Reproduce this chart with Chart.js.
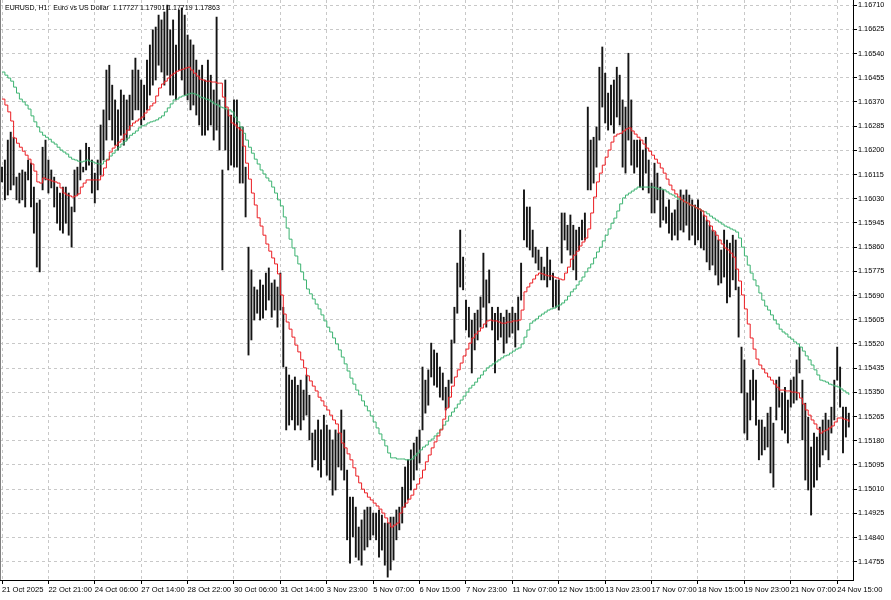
<!DOCTYPE html>
<html>
<head>
<meta charset="utf-8">
<script src="https://cdn.jsdelivr.net/npm/chart.js@4.4.1/dist/chart.umd.min.js"></script>
<style>
  html, body { margin: 0; padding: 0; background: #fff; }
</style>
</head>
<body>
<canvas id="myChart" width="891" height="600"></canvas>
<script>
// EURUSD H1 bars (one high / low per bar)
var highs = [
  1.16141,1.16166,1.16236,1.16264,1.16246,1.16106,1.16120,1.16131,1.16124,1.16166,
  1.16155,1.16071,1.16015,1.16026,1.16211,1.16236,1.16166,1.16131,1.16106,1.16071,
  1.16050,1.16071,1.16071,1.16050,1.16001,1.16131,1.16141,1.16201,1.16141,1.16225,
  1.16211,1.16166,1.16120,1.16166,1.16289,1.16342,1.16482,1.16499,1.16429,1.16377,
  1.16342,1.16412,1.16394,1.16377,1.16394,1.16482,1.16524,1.16482,1.16447,1.16429,
  1.16517,1.16570,1.16623,1.16633,1.16675,1.16658,1.16686,1.16710,1.16623,1.16658,
  1.16570,1.16693,1.16700,1.16675,1.16605,1.16588,1.16570,1.16517,1.16482,1.16499,
  1.16447,1.16517,1.16464,1.16412,1.16668,1.16377,1.16131,1.16447,1.16342,1.16324,
  1.16377,1.16377,1.16282,1.16282,1.16141,1.15860,1.15780,1.15720,1.15710,1.15745,
  1.15727,1.15769,1.15787,1.15734,1.15745,1.15720,1.15769,1.15649,1.15439,1.15411,
  1.15393,1.15404,1.15375,1.15393,1.15358,1.15411,1.15340,1.15207,1.15218,1.15253,
  1.15218,1.15270,1.15235,1.15218,1.15183,1.15218,1.15207,1.15288,1.15218,1.15077,
  1.14982,1.14982,1.14947,1.14877,1.14902,1.14937,1.14947,1.14947,1.14926,1.14926,
  1.14937,1.14919,1.14891,1.14891,1.14912,1.14912,1.14937,1.14947,1.15017,1.15088,
  1.15113,1.15148,1.15172,1.15193,1.15218,1.15439,1.15393,1.15429,1.15523,1.15499,
  1.15488,1.15439,1.15418,1.15368,1.15393,1.15534,1.15649,1.15804,1.15920,1.15825,
  1.15674,1.15649,1.15604,1.15628,1.15639,1.15685,1.15839,1.15745,1.15780,1.15649,
  1.15628,1.15649,1.15628,1.15614,1.15639,1.15628,1.15649,1.15628,1.15685,1.15804,
  1.16061,1.16001,1.16001,1.15920,1.15860,1.15850,1.15825,1.15790,1.15860,1.15815,
  1.15769,1.15745,1.15745,1.15980,1.15980,1.15937,1.15973,1.15937,1.15920,1.15930,
  1.15955,1.15980,1.16352,1.16236,1.16246,1.16282,1.16492,1.16563,1.16471,1.16401,
  1.16429,1.16447,1.16492,1.16464,1.16377,1.16352,1.16541,1.16377,1.16236,1.16236,
  1.16236,1.16201,1.16246,1.16166,1.16085,1.16155,1.16120,1.16071,1.16061,1.16001,
  1.16026,1.15980,1.15991,1.16026,1.16061,1.16043,1.16061,1.16043,1.16026,1.16008,
  1.16026,1.15991,1.15973,1.15955,1.15937,1.15920,1.15913,1.15885,1.15850,1.15920,
  1.15885,1.15874,1.15902,1.15885,1.15720,1.15509,1.15464,1.15348,1.15393,1.15429,
  1.15393,1.15253,1.15253,1.15228,1.15277,1.15298,1.15242,1.15393,1.15404,1.15348,
  1.15368,1.15323,1.15393,1.15404,1.15464,1.15509,1.15393,1.15312,1.15263,1.15158,
  1.15207,1.15193,1.15228,1.15253,1.15277,1.15253,1.15298,1.15393,1.15509,1.15439,
  1.15298,1.15298,1.15277
];
var lows = [
  1.16089,1.16026,1.16043,1.16061,1.16078,1.16026,1.16015,1.16026,1.16001,1.16096,
  1.16001,1.15909,1.15790,1.15773,1.16061,1.16096,1.16050,1.16068,1.16001,1.15944,
  1.15920,1.15909,1.15944,1.15902,1.15860,1.15984,1.16043,1.16096,1.16124,1.16131,
  1.16148,1.16050,1.16015,1.16061,1.16113,1.16166,1.16236,1.16307,1.16236,1.16218,
  1.16201,1.16253,1.16218,1.16236,1.16271,1.16307,1.16342,1.16342,1.16289,1.16307,
  1.16342,1.16394,1.16429,1.16447,1.16499,1.16475,1.16429,1.16464,1.16394,1.16394,
  1.16377,1.16482,1.16447,1.16394,1.16377,1.16342,1.16359,1.16324,1.16289,1.16253,
  1.16253,1.16271,1.16289,1.16236,1.16271,1.16201,1.15780,1.16201,1.16131,1.16148,
  1.16141,1.16141,1.16085,1.16085,1.15966,1.15481,1.15534,1.15604,1.15628,1.15604,
  1.15611,1.15639,1.15674,1.15614,1.15639,1.15579,1.15639,1.15439,1.15218,1.15235,
  1.15253,1.15218,1.15235,1.15218,1.15253,1.15270,1.15183,1.15088,1.15113,1.15077,
  1.15052,1.15113,1.15059,1.15042,1.14989,1.15007,1.15088,1.15077,1.15042,1.14832,
  1.14750,1.14842,1.14771,1.14761,1.14743,1.14796,1.14807,1.14832,1.14849,1.14832,
  1.14771,1.14796,1.14743,1.14701,1.14726,1.14761,1.14832,1.14867,1.14891,1.14947,
  1.14972,1.15007,1.15042,1.15077,1.15102,1.15218,1.15277,1.15305,1.15404,1.15375,
  1.15368,1.15333,1.15323,1.15288,1.15298,1.15382,1.15523,1.15628,1.15720,1.15710,
  1.15569,1.15544,1.15418,1.15499,1.15534,1.15579,1.15649,1.15579,1.15664,1.15569,
  1.15418,1.15534,1.15544,1.15488,1.15523,1.15544,1.15558,1.15509,1.15569,1.15674,
  1.15885,1.15860,1.15850,1.15825,1.15804,1.15780,1.15745,1.15745,1.15720,1.15745,
  1.15649,1.15649,1.15639,1.15804,1.15885,1.15850,1.15832,1.15780,1.15745,1.15850,
  1.15885,1.15885,1.16061,1.16061,1.16085,1.16141,1.16236,1.16352,1.16296,1.16271,
  1.16289,1.16260,1.16317,1.16289,1.16141,1.16120,1.16236,1.16148,1.16120,1.16141,
  1.16071,1.16061,1.16120,1.16050,1.15980,1.15980,1.16026,1.15930,1.15955,1.15944,
  1.15909,1.15885,1.15902,1.15885,1.15920,1.15913,1.15937,1.15885,1.15902,1.15868,
  1.15885,1.15857,1.15850,1.15808,1.15780,1.15797,1.15762,1.15727,1.15734,1.15755,
  1.15664,1.15685,1.15745,1.15710,1.15544,1.15348,1.15207,1.15183,1.15253,1.15323,
  1.15235,1.15113,1.15130,1.15148,1.15158,1.15067,1.15017,1.15253,1.15298,1.15218,
  1.15207,1.15172,1.15298,1.15312,1.15323,1.15418,1.15183,1.15042,1.15007,1.14919,
  1.15017,1.15042,1.15088,1.15130,1.15148,1.15113,1.15207,1.15253,1.15393,1.15298,
  1.15137,1.15193,1.15228
];
// moving averages (red = fast, green = slow)
var fastMA = [
  1.16380,1.16359,1.16335,1.16303,1.16243,1.16225,1.16211,1.16197,1.16183,1.16169,
  1.16152,1.16127,1.16089,1.16085,1.16103,1.16099,1.16096,1.16092,1.16089,1.16085,
  1.16068,1.16050,1.16043,1.16040,1.16036,1.16040,1.16047,1.16071,1.16085,1.16096,
  1.16096,1.16096,1.16096,1.16096,1.16110,1.16138,1.16166,1.16194,1.16208,1.16218,
  1.16229,1.16239,1.16257,1.16271,1.16286,1.16296,1.16303,1.16310,1.16317,1.16331,
  1.16342,1.16356,1.16366,1.16391,1.16419,1.16433,1.16443,1.16454,1.16464,1.16471,
  1.16478,1.16482,1.16485,1.16489,1.16492,1.16482,1.16471,1.16461,1.16450,1.16447,
  1.16443,1.16443,1.16440,1.16440,1.16436,1.16436,1.16387,1.16352,1.16321,1.16296,
  1.16289,1.16279,1.16271,1.16215,1.16155,1.16099,1.16050,1.16008,1.15963,1.15934,
  1.15902,1.15871,1.15846,1.15822,1.15801,1.15766,1.15692,1.15625,1.15597,1.15572,
  1.15544,1.15516,1.15492,1.15464,1.15436,1.15408,1.15390,1.15372,1.15355,1.15333,
  1.15320,1.15302,1.15288,1.15270,1.15253,1.15239,1.15207,1.15172,1.15155,1.15134,
  1.15113,1.15085,1.15056,1.15032,1.15010,1.14997,1.14982,1.14972,1.14961,1.14951,
  1.14940,1.14926,1.14909,1.14891,1.14877,1.14884,1.14891,1.14926,1.14947,1.14961,
  1.14975,1.14989,1.15010,1.15028,1.15049,1.15077,1.15106,1.15130,1.15155,1.15176,
  1.15197,1.15218,1.15256,1.15295,1.15333,1.15372,1.15404,1.15429,1.15453,1.15478,
  1.15502,1.15523,1.15541,1.15555,1.15565,1.15576,1.15590,1.15601,1.15604,1.15601,
  1.15601,1.15597,1.15593,1.15593,1.15597,1.15597,1.15601,1.15601,1.15604,1.15639,
  1.15703,1.15720,1.15734,1.15748,1.15762,1.15769,1.15766,1.15762,1.15759,1.15759,
  1.15755,1.15752,1.15748,1.15745,1.15769,1.15790,1.15818,1.15832,1.15846,1.15864,
  1.15878,1.15892,1.15924,1.15980,1.16036,1.16089,1.16120,1.16148,1.16176,1.16201,
  1.16229,1.16250,1.16257,1.16260,1.16268,1.16275,1.16279,1.16268,1.16257,1.16246,
  1.16236,1.16222,1.16208,1.16197,1.16183,1.16169,1.16155,1.16138,1.16120,1.16099,
  1.16078,1.16061,1.16047,1.16036,1.16026,1.16019,1.16015,1.16008,1.16005,1.15998,
  1.15994,1.15987,1.15969,1.15952,1.15934,1.15917,1.15902,1.15885,1.15871,1.15857,
  1.15850,1.15839,1.15825,1.15783,1.15741,1.15692,1.15643,1.15590,1.15541,1.15502,
  1.15467,1.15446,1.15432,1.15418,1.15404,1.15393,1.15379,1.15368,1.15358,1.15358,
  1.15355,1.15355,1.15351,1.15351,1.15348,1.15330,1.15309,1.15288,1.15270,1.15253,
  1.15239,1.15221,1.15207,1.15214,1.15218,1.15225,1.15232,1.15246,1.15260,1.15260,
  1.15256,1.15253,1.15246
];
var slowMA = [
  1.16475,1.16464,1.16454,1.16443,1.16422,1.16401,1.16380,1.16370,1.16359,1.16345,
  1.16321,1.16300,1.16282,1.16264,1.16253,1.16246,1.16239,1.16229,1.16222,1.16211,
  1.16201,1.16194,1.16187,1.16176,1.16169,1.16166,1.16162,1.16159,1.16162,1.16166,
  1.16162,1.16159,1.16155,1.16152,1.16152,1.16162,1.16169,1.16180,1.16190,1.16201,
  1.16211,1.16222,1.16232,1.16243,1.16253,1.16260,1.16268,1.16279,1.16286,1.16289,
  1.16296,1.16300,1.16303,1.16307,1.16314,1.16321,1.16335,1.16349,1.16363,1.16377,
  1.16380,1.16387,1.16391,1.16394,1.16398,1.16401,1.16398,1.16394,1.16387,1.16384,
  1.16380,1.16377,1.16370,1.16363,1.16359,1.16352,1.16349,1.16345,1.16342,1.16335,
  1.16317,1.16300,1.16282,1.16260,1.16236,1.16211,1.16190,1.16169,1.16152,1.16131,
  1.16117,1.16103,1.16092,1.16071,1.16050,1.16026,1.16005,1.15966,1.15927,1.15888,
  1.15857,1.15829,1.15801,1.15773,1.15745,1.15713,1.15696,1.15678,1.15660,1.15643,
  1.15622,1.15601,1.15579,1.15562,1.15541,1.15520,1.15499,1.15474,1.15450,1.15425,
  1.15400,1.15379,1.15358,1.15341,1.15320,1.15302,1.15285,1.15267,1.15246,1.15225,
  1.15204,1.15183,1.15162,1.15137,1.15120,1.15120,1.15116,1.15116,1.15116,1.15113,
  1.15113,1.15116,1.15127,1.15137,1.15148,1.15158,1.15165,1.15179,1.15186,1.15197,
  1.15207,1.15221,1.15235,1.15249,1.15267,1.15281,1.15295,1.15309,1.15323,1.15337,
  1.15351,1.15365,1.15375,1.15386,1.15400,1.15411,1.15425,1.15436,1.15443,1.15450,
  1.15457,1.15464,1.15471,1.15478,1.15481,1.15488,1.15495,1.15502,1.15506,1.15520,
  1.15544,1.15569,1.15593,1.15601,1.15608,1.15618,1.15625,1.15632,1.15639,1.15643,
  1.15646,1.15653,1.15657,1.15664,1.15674,1.15688,1.15703,1.15713,1.15727,1.15741,
  1.15755,1.15773,1.15787,1.15801,1.15822,1.15843,1.15860,1.15882,1.15902,1.15924,
  1.15944,1.15962,1.15987,1.16012,1.16033,1.16043,1.16050,1.16057,1.16064,1.16071,
  1.16071,1.16071,1.16071,1.16071,1.16071,1.16068,1.16064,1.16064,1.16061,1.16054,
  1.16047,1.16043,1.16036,1.16029,1.16026,1.16019,1.16015,1.16008,1.16005,1.15998,
  1.15994,1.15987,1.15984,1.15977,1.15969,1.15962,1.15955,1.15948,1.15941,1.15934,
  1.15930,1.15924,1.15920,1.15913,1.15892,1.15860,1.15829,1.15797,1.15769,1.15745,
  1.15724,1.15699,1.15674,1.15653,1.15639,1.15622,1.15604,1.15590,1.15572,1.15562,
  1.15555,1.15544,1.15537,1.15527,1.15520,1.15509,1.15495,1.15478,1.15464,1.15446,
  1.15429,1.15411,1.15393,1.15390,1.15386,1.15379,1.15376,1.15372,1.15369,1.15362,
  1.15355,1.15348,1.15341
];

// axis labels
var priceTicks = [
  1.16710, 1.16625, 1.16540, 1.16455, 1.16370, 1.16285, 1.16200, 1.16115,
  1.16030, 1.15945, 1.15860, 1.15775, 1.15690, 1.15605, 1.15520, 1.15435,
  1.15350, 1.15265, 1.15180, 1.15095, 1.15010, 1.14925, 1.14840, 1.14755
];
var timeLabels = [
  "21 Oct 2025", "22 Oct 21:00", "24 Oct 06:00", "27 Oct 14:00", "28 Oct 22:00",
  "30 Oct 06:00", "31 Oct 14:00", "3 Nov 23:00", "5 Nov 07:00", "6 Nov 15:00",
  "7 Nov 23:00", "11 Nov 07:00", "12 Nov 15:00", "13 Nov 23:00", "17 Nov 07:00",
  "18 Nov 15:00", "19 Nov 23:00", "21 Nov 07:00", "24 Nov 15:00"
];
var barsPerLabel = 16;
var header = "EURUSD, H1:  Euro vs US Dollar  1.17727 1.17901 1.17719 1.17863";

var FAMILY = "Liberation Sans";
var GRID = '#c8c8c8';

var barIndex = highs.map(function (_, i) { return i; });
var ranges = highs.map(function (h, i) { return [lows[i], h]; });

// white background, left frame line and the symbol header
var chartFrame = {
  id: 'chartFrame',
  beforeDraw: function (chart) {
    var c = chart.ctx;
    c.save();
    c.fillStyle = '#fff';
    c.fillRect(0, 0, chart.width, chart.height);
    c.restore();
  },
  afterDraw: function (chart) {
    var c = chart.ctx, a = chart.chartArea;
    c.save();
    c.strokeStyle = '#808080';
    c.lineWidth = 1;
    c.beginPath();
    c.moveTo(a.left + 0.5, a.top);
    c.lineTo(a.left + 0.5, a.bottom);
    c.stroke();
    c.fillStyle = '#000';
    c.font = '7px "' + FAMILY + '"';
    c.textBaseline = 'middle';
    c.fillText(header, 5, 8);
    c.restore();
  }
};

var ctx = document.getElementById("myChart");
var myChart = new Chart(ctx, {
  type: 'bar',
  data: {
    labels: barIndex,
    datasets: [
      {
        type: 'line',
        label: 'MA fast',
        data: fastMA,
        borderColor: 'rgb(235, 30, 35)',
        borderWidth: 1,
        pointRadius: 0,
        stepped: true,
        order: 1
      },
      {
        type: 'line',
        label: 'MA slow',
        data: slowMA,
        borderColor: 'rgb(60, 179, 113)',
        borderWidth: 1,
        pointRadius: 0,
        stepped: true,
        order: 2
      },
      {
        label: 'EURUSD',
        data: ranges,
        backgroundColor: 'rgba(20, 20, 20, 1)',
        borderWidth: 0,
        barThickness: 1.25,
        order: 3
      }
    ]
  },
  options: {
    responsive: false,
    animation: false,
    devicePixelRatio: 1,
    layout: { padding: 0 },
    plugins: {
      legend: { display: false },
      tooltip: { enabled: false }
    },
    scales: {
      x: {
        type: 'linear',
        position: 'bottom',
        min: -0.69,
        max: 293.45,
        offset: false,
        grid: { offset: false, color: GRID, tickColor: '#000', tickLength: 4 },
        border: { display: true, color: '#000', dash: [3, 3] },
        ticks: {
          autoSkip: false, maxRotation: 0, minRotation: 0, align: 'start',
          padding: 1, color: '#000', font: { family: FAMILY, size: 7.6 },
          callback: function (v, i) { return timeLabels[i]; }
        },
        afterBuildTicks: function (s) {
          s.ticks = timeLabels.map(function (_, k) { return { value: k * barsPerLabel }; });
        },
        afterFit: function (s) { s.height = 20; s.paddingLeft = 0; s.paddingRight = 0; }
      },
      y: {
        type: 'linear',
        position: 'right',
        min: 1.14691,
        max: 1.16728,
        beginAtZero: false,
        grid: { color: GRID, tickColor: '#000', tickLength: 4 },
        border: { display: true, color: '#000', dash: [3, 3] },
        ticks: {
          padding: 1, color: '#000', font: { family: FAMILY, size: 7.3 },
          callback: function (v) { return Number(v).toFixed(5); }
        },
        afterBuildTicks: function (s) {
          s.ticks = priceTicks.map(function (v) { return { value: v }; });
        },
        afterFit: function (s) { s.width = 38; s.paddingTop = 0; s.paddingBottom = 0; }
      }
    }
  },
  plugins: [chartFrame]
});
</script>
</body>
</html>
